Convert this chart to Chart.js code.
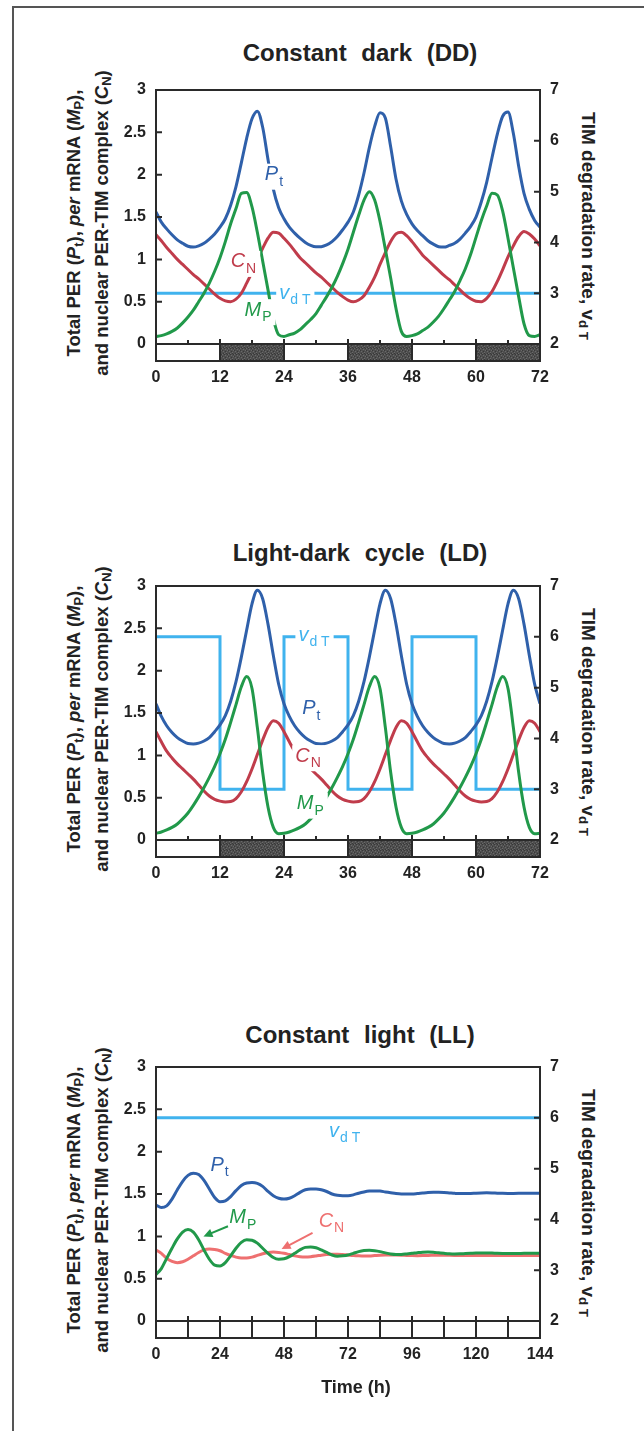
<!DOCTYPE html>
<html lang="en">
<head>
<meta charset="UTF-8">
<title>PER / TIM oscillations</title>
<script src="https://cdn.jsdelivr.net/npm/chart.js"></script>
<style>
  body { margin: 0; background: #fff; font-family: "Liberation Sans", Arial, sans-serif; }
  #page { position: relative; width: 644px; height: 1431px; overflow: hidden; background: #fff; }
  .frame { position: absolute; left: 12px; top: 6px; width: 640px; height: 1430px; border-left: 2px solid #555; border-top: 2px solid #555; }
  canvas { position: absolute; left: 0; }
  .title { position: absolute; width: 420px; text-align: center; font-weight: bold; font-size: 24px; line-height: 30px; color: #222; word-spacing: 8px; white-space: nowrap; }
  .ylab { position: absolute; width: 440px; height: 56px; font-weight: bold; font-size: 18.5px; line-height: 28px; color: #222; text-align: center; white-space: nowrap; transform: rotate(-90deg); }
  .rlab { position: absolute; width: 320px; height: 22px; font-weight: bold; font-size: 19px; line-height: 22px; color: #222; text-align: center; white-space: nowrap; transform: rotate(90deg); }
  .xlab { position: absolute; width: 200px; text-align: center; font-weight: bold; font-size: 18px; line-height: 22px; color: #222; }
  sub { font-size: 0.7em; vertical-align: -0.25em; line-height: 0; }
</style>
</head>
<body>
<div id="page">
  <div class="frame"></div>

  <div class="title" style="left:150px; top:38px;">Constant dark (DD)</div>
  <div class="title" style="left:150px; top:538px;">Light-dark cycle (LD)</div>
  <div class="title" style="left:150px; top:1020px;">Constant light (LL)</div>

  <div class="ylab" style="left:-132px; top:195px;">Total PER (<i>P</i><sub>t</sub>), <i>per</i> mRNA (<i>M</i><sub>P</sub>),<br>and nuclear PER-TIM complex (<i>C</i><sub>N</sub>)</div>
  <div class="ylab" style="left:-132px; top:691px;">Total PER (<i>P</i><sub>t</sub>), <i>per</i> mRNA (<i>M</i><sub>P</sub>),<br>and nuclear PER-TIM complex (<i>C</i><sub>N</sub>)</div>
  <div class="ylab" style="left:-132px; top:1172px;">Total PER (<i>P</i><sub>t</sub>), <i>per</i> mRNA (<i>M</i><sub>P</sub>),<br>and nuclear PER-TIM complex (<i>C</i><sub>N</sub>)</div>

  <div class="rlab" style="left:428px; top:215px;">TIM degradation rate, v<sub>d T</sub></div>
  <div class="rlab" style="left:428px; top:711px;">TIM degradation rate, v<sub>d T</sub></div>
  <div class="rlab" style="left:428px; top:1192px;">TIM degradation rate, v<sub>d T</sub></div>

  <canvas id="dd" width="644" height="400" style="top:0px"></canvas>
  <canvas id="ld" width="644" height="400" style="top:496px"></canvas>
  <canvas id="ll" width="644" height="440" style="top:977px"></canvas>

  <div class="xlab" style="left:256px; top:1376px;">Time (h)</div>
</div>

<script>
// ---- data ----
const hours72 = [0,1,2,3,4,5,6,7,8,9,10,11,12,13,14,15,16,17,18,19,20,21,22,23,24,
  25,26,27,28,29,30,31,32,33,34,35,36,37,38,39,40,41,42,43,44,45,46,47,48,
  49,50,51,52,53,54,55,56,57,58,59,60,61,62,63,64,65,66,67,68,69,70,71,72];
const hours144 = [0,2,4,6,8,10,12,14,16,18,20,22,24,26,28,30,32,34,36,38,40,42,44,46,48,
  50,52,54,56,58,60,62,64,66,68,70,72,74,76,78,80,82,84,86,88,90,92,94,96,
  98,100,102,104,106,108,110,112,114,116,118,120,122,124,126,128,130,132,134,136,138,140,142,144];

// constant dark
const ptDD = [1.56,1.44,1.36,1.29,1.23,1.19,1.155,1.145,1.16,1.19,1.24,1.30,1.38,1.48,1.64,1.86,2.14,2.43,2.66,2.75,2.56,2.18,1.83,1.61,
  1.48,1.38,1.31,1.25,1.20,1.165,1.148,1.15,1.17,1.21,1.27,1.35,1.44,1.56,1.76,2.02,2.32,2.57,2.73,2.67,2.33,1.95,1.69,1.53,
  1.42,1.34,1.28,1.22,1.18,1.15,1.145,1.165,1.19,1.24,1.31,1.39,1.50,1.68,1.91,2.20,2.48,2.69,2.74,2.49,2.10,1.78,1.59,1.46,1.38];
const mpDD = [0.09,0.10,0.12,0.15,0.19,0.25,0.32,0.40,0.50,0.60,0.72,0.86,1.02,1.21,1.42,1.60,1.78,1.79,1.62,1.32,0.98,0.64,0.30,0.11,
  0.09,0.11,0.13,0.17,0.23,0.29,0.36,0.46,0.56,0.67,0.80,0.95,1.12,1.32,1.52,1.70,1.80,1.70,1.45,1.12,0.78,0.42,0.15,0.09,
  0.10,0.12,0.16,0.20,0.26,0.33,0.42,0.52,0.62,0.75,0.89,1.06,1.26,1.46,1.63,1.78,1.76,1.57,1.25,0.90,0.56,0.24,0.10,0.09,0.11];
const cnDD = [1.29,1.22,1.14,1.07,1.00,0.94,0.88,0.82,0.77,0.71,0.65,0.59,0.54,0.51,0.50,0.53,0.60,0.72,0.85,1.00,1.13,1.25,1.32,1.31,
  1.25,1.18,1.10,1.02,0.96,0.90,0.84,0.79,0.73,0.67,0.61,0.56,0.52,0.50,0.52,0.57,0.67,0.79,0.94,1.08,1.21,1.30,1.32,1.28,
  1.21,1.13,1.05,0.99,0.93,0.87,0.81,0.76,0.70,0.64,0.58,0.535,0.505,0.50,0.54,0.62,0.74,0.88,1.03,1.16,1.27,1.33,1.30,1.24,1.16];
const vdtTimesDD = [0, 72];
const vdtDD = [3, 3];

// light-dark cycle
const ptLD = [1.61,1.46,1.35,1.27,1.21,1.17,1.14,1.135,1.145,1.17,1.21,1.28,1.36,1.47,1.64,1.87,2.16,2.48,2.79,2.95,2.85,2.55,2.18,1.84,
  1.61,1.46,1.35,1.27,1.21,1.17,1.14,1.135,1.145,1.17,1.21,1.28,1.36,1.47,1.64,1.87,2.16,2.48,2.79,2.95,2.85,2.55,2.18,1.84,
  1.61,1.46,1.35,1.27,1.21,1.17,1.14,1.135,1.145,1.17,1.21,1.28,1.36,1.47,1.64,1.87,2.16,2.48,2.79,2.95,2.85,2.55,2.18,1.84,1.61];
const mpLD = [0.08,0.095,0.12,0.15,0.19,0.25,0.32,0.41,0.51,0.62,0.74,0.87,1.02,1.19,1.39,1.60,1.81,1.93,1.79,1.33,0.80,0.39,0.15,0.075,
  0.08,0.095,0.12,0.15,0.19,0.25,0.32,0.41,0.51,0.62,0.74,0.87,1.02,1.19,1.39,1.60,1.81,1.93,1.79,1.33,0.80,0.39,0.15,0.075,
  0.08,0.095,0.12,0.15,0.19,0.25,0.32,0.41,0.51,0.62,0.74,0.87,1.02,1.19,1.39,1.60,1.81,1.93,1.79,1.33,0.80,0.39,0.15,0.075,0.08];
const cnLD = [1.28,1.16,1.05,0.97,0.90,0.84,0.78,0.72,0.65,0.58,0.52,0.48,0.46,0.45,0.455,0.49,0.57,0.69,0.84,1.01,1.18,1.33,1.41,1.38,
  1.28,1.16,1.05,0.97,0.90,0.84,0.78,0.72,0.65,0.58,0.52,0.48,0.46,0.45,0.455,0.49,0.57,0.69,0.84,1.01,1.18,1.33,1.41,1.38,
  1.28,1.16,1.05,0.97,0.90,0.84,0.78,0.72,0.65,0.58,0.52,0.48,0.46,0.45,0.455,0.49,0.57,0.69,0.84,1.01,1.18,1.33,1.41,1.38,1.28];
const vdtTimesLD = [0, 12, 24, 36, 48, 60, 72];
const vdtLD = [6, 3, 6, 3, 6, 3, 3];

// constant light
const ptLL = [1.37,1.34,1.36,1.44,1.55,1.65,1.72,1.745,1.73,1.66,1.56,1.46,1.41,1.42,1.47,1.54,
  1.60,1.63,1.635,1.625,1.59,1.53,1.48,1.45,1.44,1.45,1.48,1.52,1.55,1.56,1.56,1.55,
  1.53,1.50,1.485,1.48,1.48,1.49,1.51,1.525,1.535,1.537,1.535,1.525,1.515,1.505,1.50,1.50,
  1.50,1.505,1.512,1.518,1.52,1.52,1.518,1.513,1.508,1.505,1.505,1.506,1.51,1.513,1.514,1.513,
  1.51,1.508,1.507,1.507,1.508,1.51,1.51,1.51,1.51];
const mpLL = [0.55,0.62,0.74,0.86,0.97,1.05,1.08,1.05,0.96,0.84,0.73,0.66,0.65,0.69,0.77,0.86,
  0.93,0.96,0.955,0.92,0.86,0.80,0.75,0.73,0.735,0.76,0.80,0.84,0.87,0.875,0.865,0.84,
  0.81,0.78,0.765,0.77,0.78,0.80,0.82,0.832,0.835,0.83,0.82,0.805,0.792,0.786,0.787,0.793,
  0.80,0.808,0.814,0.815,0.812,0.806,0.80,0.795,0.793,0.794,0.797,0.80,0.803,0.805,0.805,0.803,
  0.80,0.798,0.797,0.797,0.798,0.80,0.80,0.80,0.80];
const cnLL = [0.84,0.80,0.74,0.705,0.69,0.70,0.73,0.77,0.81,0.84,0.85,0.845,0.83,0.80,0.775,0.755,
  0.745,0.745,0.755,0.775,0.795,0.81,0.815,0.81,0.80,0.785,0.77,0.76,0.757,0.76,0.768,0.778,
  0.786,0.79,0.79,0.786,0.78,0.774,0.77,0.768,0.769,0.773,0.777,0.78,0.781,0.78,0.778,0.775,
  0.773,0.772,0.773,0.775,0.776,0.777,0.777,0.776,0.775,0.774,0.774,0.774,0.775,0.775,0.775,0.775,
  0.775,0.775,0.775,0.775,0.775,0.775,0.775,0.775,0.775];
const vdtTimesLL = [0, 144];
const vdtLL = [6, 6];

// axes
const leftTicks = [0, 0.5, 1, 1.5, 2, 2.5, 3];
const rightTicks = [2, 3, 4, 5, 6, 7];
const xTicks72 = [0, 12, 24, 36, 48, 60, 72];
const xTicks144 = [0, 24, 48, 72, 96, 120, 144];
const darkStarts = [12, 36, 60];

// ---- look ----
const colPt = '#2f60aa';
const colMp = '#21994a';
const colCn = '#c03c4b';
const colCnLL = '#ee7070';
const colVdt = '#40b3ee';
const ink = '#2a2a2a';
const FONT = '"Liberation Sans", Arial, sans-serif';

Chart.defaults.font.family = FONT;
Chart.defaults.color = '#222';

function pts(ts, vs) {
  return ts.map((t, i) => ({ x: t, y: vs[i] }));
}

function curve(ts, vs, color) {
  return {
    data: pts(ts, vs), borderColor: color, borderWidth: 3, pointRadius: 0,
    cubicInterpolationMode: 'monotone', fill: false, yAxisID: 'yL'
  };
}

let darkFill = null;
function getDarkFill(ctx) {
  if (darkFill) return darkFill;
  const c = document.createElement('canvas');
  c.width = 6; c.height = 6;
  const g = c.getContext('2d');
  g.fillStyle = '#4e4e4e';
  g.fillRect(0, 0, 6, 6);
  g.fillStyle = '#6a6a6a';
  [[0,0],[3,1],[1,3],[4,4],[5,2],[2,5]].forEach(p => g.fillRect(p[0], p[1], 1, 1));
  g.fillStyle = '#383838';
  [[2,0],[5,0],[0,2],[3,3],[1,5],[4,5]].forEach(p => g.fillRect(p[0], p[1], 1, 1));
  darkFill = ctx.createPattern(c, 'repeat');
  return darkFill;
}

function drawLabel(ctx, x, y, lab) {
  ctx.font = 'italic 20px ' + FONT;
  const w1 = ctx.measureText(lab.main).width;
  ctx.font = '14px ' + FONT;
  const w2 = ctx.measureText(lab.sub).width;
  if (lab.box) {
    ctx.fillStyle = '#fff';
    ctx.fillRect(x - 3, y - 11, w1 + w2 + 8, 26);
  }
  ctx.fillStyle = lab.color;
  ctx.textBaseline = 'middle';
  ctx.textAlign = 'left';
  ctx.font = 'italic 20px ' + FONT;
  ctx.fillText(lab.main, x, y);
  ctx.font = '14px ' + FONT;
  ctx.fillText(lab.sub, x + w1 + 1, y + 7);
}

const decor = {
  id: 'decor',
  beforeDatasetsDraw(chart, args, o) {
    const { ctx, chartArea: a, scales: { x, yL } } = chart;
    const y0 = yL.getPixelForValue(0), yb = yL.getPixelForValue(yL.min);
    ctx.save();
    ctx.fillStyle = '#fff';
    ctx.fillRect(a.left, y0, a.right - a.left, yb - y0);
    ctx.fillStyle = getDarkFill(ctx);
    o.dark.forEach(s => {
      const x1 = x.getPixelForValue(s), x2 = x.getPixelForValue(s + 12);
      ctx.fillRect(x1, y0, x2 - x1, yb - y0);
    });
    ctx.restore();
  },
  afterDatasetsDraw(chart, args, o) {
    const { ctx, scales: { x, yL } } = chart;
    ctx.save();
    (o.arrows || []).forEach(ar => {
      const x1 = x.getPixelForValue(ar.from[0]), y1 = yL.getPixelForValue(ar.from[1]);
      const x2 = x.getPixelForValue(ar.to[0]), y2 = yL.getPixelForValue(ar.to[1]);
      const ang = Math.atan2(y2 - y1, x2 - x1);
      ctx.strokeStyle = ar.color; ctx.fillStyle = ar.color; ctx.lineWidth = 2;
      ctx.beginPath(); ctx.moveTo(x1, y1);
      ctx.lineTo(x2 - 6 * Math.cos(ang), y2 - 6 * Math.sin(ang)); ctx.stroke();
      ctx.beginPath(); ctx.moveTo(x2, y2);
      ctx.lineTo(x2 - 10 * Math.cos(ang - 0.45), y2 - 10 * Math.sin(ang - 0.45));
      ctx.lineTo(x2 - 10 * Math.cos(ang + 0.45), y2 - 10 * Math.sin(ang + 0.45));
      ctx.closePath(); ctx.fill();
    });
    o.labels.forEach(lab => {
      drawLabel(ctx, x.getPixelForValue(lab.t), yL.getPixelForValue(lab.v), lab);
    });
    ctx.restore();
  },
  afterDraw(chart, args, o) {
    const { ctx, chartArea: a, scales: { x, yL, yR } } = chart;
    const y0 = yL.getPixelForValue(0), yb = yL.getPixelForValue(yL.min);
    ctx.save();
    ctx.strokeStyle = ink;
    ctx.lineWidth = 2;
    ctx.strokeRect(a.left, a.top, a.right - a.left, yb - a.top);
    ctx.beginPath();
    ctx.moveTo(a.left, y0); ctx.lineTo(a.right, y0);
    leftTicks.forEach(v => {
      const y = yL.getPixelForValue(v);
      ctx.moveTo(a.left, y); ctx.lineTo(a.left + 6, y);
    });
    rightTicks.forEach(v => {
      const y = yR.getPixelForValue(v);
      ctx.moveTo(a.right - 6, y); ctx.lineTo(a.right, y);
    });
    for (let t = 12; t < x.max; t += 12) {
      const px = x.getPixelForValue(t);
      ctx.moveTo(px, y0 - 5); ctx.lineTo(px, yb);
    }
    ctx.stroke();
    if (o.minor) {
      ctx.beginPath();
      for (let t = 6; t < x.max; t += 12) {
        const px = x.getPixelForValue(t);
        ctx.moveTo(px, y0 - 4); ctx.lineTo(px, y0);
      }
      ctx.stroke();
    }
    ctx.restore();
  }
};

function panel(id, o) {
  const h = document.getElementById(id).height;
  const tickFont = { family: FONT, size: 16, weight: 'bold' };
  return new Chart(document.getElementById(id), {
    type: 'line',
    data: {
      datasets: [
        curve(o.hours, o.pt, colPt),
        curve(o.hours, o.mp, colMp),
        curve(o.hours, o.cn, o.cnColor),
        {
          data: pts(o.vTimes, o.vdt), borderColor: colVdt, borderWidth: 3, pointRadius: 0,
          stepped: o.stepped ? 'before' : false, tension: 0, fill: false, yAxisID: 'yR'
        }
      ]
    },
    options: {
      responsive: false, animation: false, devicePixelRatio: 1,
      layout: { padding: { top: 90, left: 0, right: 0, bottom: 0 } },
      plugins: {
        legend: { display: false }, tooltip: { enabled: false },
        decor: { dark: o.dark, labels: o.labels, arrows: o.arrows, minor: o.minor }
      },
      scales: {
        x: {
          type: 'linear', min: 0, max: o.xMax,
          grid: { display: false, drawTicks: false }, border: { display: false },
          ticks: { font: tickFont, color: '#222', padding: 7, autoSkip: false, maxRotation: 0 },
          afterBuildTicks: s => { s.ticks = o.xTicks.map(v => ({ value: v })); },
          afterFit: s => { s.height = h - 361; }
        },
        yL: {
          type: 'linear', position: 'left', min: -0.2, max: 3,
          grid: { display: false, drawTicks: false }, border: { display: false },
          ticks: { font: tickFont, color: '#222', padding: 10, callback: v => String(v) },
          afterBuildTicks: s => { s.ticks = leftTicks.map(v => ({ value: v })); },
          afterFit: s => { s.width = 156; }
        },
        yR: {
          type: 'linear', position: 'right', min: 2 - 0.2 * 5 / 3, max: 7,
          grid: { display: false, drawTicks: false }, border: { display: false },
          ticks: { font: tickFont, color: '#222', padding: 10, callback: v => String(v) },
          afterBuildTicks: s => { s.ticks = rightTicks.map(v => ({ value: v })); },
          afterFit: s => { s.width = 104; }
        }
      }
    },
    plugins: [decor]
  });
}

panel('dd', {
  hours: hours72, pt: ptDD, mp: mpDD, cn: cnDD, cnColor: colCn,
  vTimes: vdtTimesDD, vdt: vdtDD, stepped: false,
  xMax: 72, xTicks: xTicks72, dark: darkStarts, minor: true,
  labels: [
    { t: 20.4, v: 2.0, main: 'P', sub: 't', color: colPt, box: true },
    { t: 14.0, v: 0.97, main: 'C', sub: 'N', color: colCn, box: true },
    { t: 23.1, v: 0.6, main: 'v', sub: 'd T', color: colVdt, box: true },
    { t: 16.6, v: 0.40, main: 'M', sub: 'P', color: colMp, box: true }
  ]
});

panel('ld', {
  hours: hours72, pt: ptLD, mp: mpLD, cn: cnLD, cnColor: colCn,
  vTimes: vdtTimesLD, vdt: vdtLD, stepped: true,
  xMax: 72, xTicks: xTicks72, dark: darkStarts, minor: true,
  labels: [
    { t: 26.7, v: 2.42, main: 'v', sub: 'd T', color: colVdt, box: true },
    { t: 27.4, v: 1.55, main: 'P', sub: 't', color: colPt, box: true },
    { t: 26.1, v: 0.99, main: 'C', sub: 'N', color: colCn, box: true },
    { t: 26.4, v: 0.43, main: 'M', sub: 'P', color: colMp, box: true }
  ]
});

panel('ll', {
  hours: hours144, pt: ptLL, mp: mpLL, cn: cnLL, cnColor: colCnLL,
  vTimes: vdtTimesLL, vdt: vdtLL, stepped: false,
  xMax: 144, xTicks: xTicks144, dark: [], minor: false,
  labels: [
    { t: 64.9, v: 2.24, main: 'v', sub: 'd T', color: colVdt, box: false },
    { t: 20.4, v: 1.84, main: 'P', sub: 't', color: colPt, box: false },
    { t: 27.5, v: 1.22, main: 'M', sub: 'P', color: colMp, box: false },
    { t: 61.0, v: 1.18, main: 'C', sub: 'N', color: colCnLL, box: false }
  ],
  arrows: [
    { from: [27.0, 1.12], to: [17.8, 1.0], color: colMp },
    { from: [58.7, 1.04], to: [47.1, 0.85], color: colCnLL }
  ]
});
</script>
</body>
</html>
